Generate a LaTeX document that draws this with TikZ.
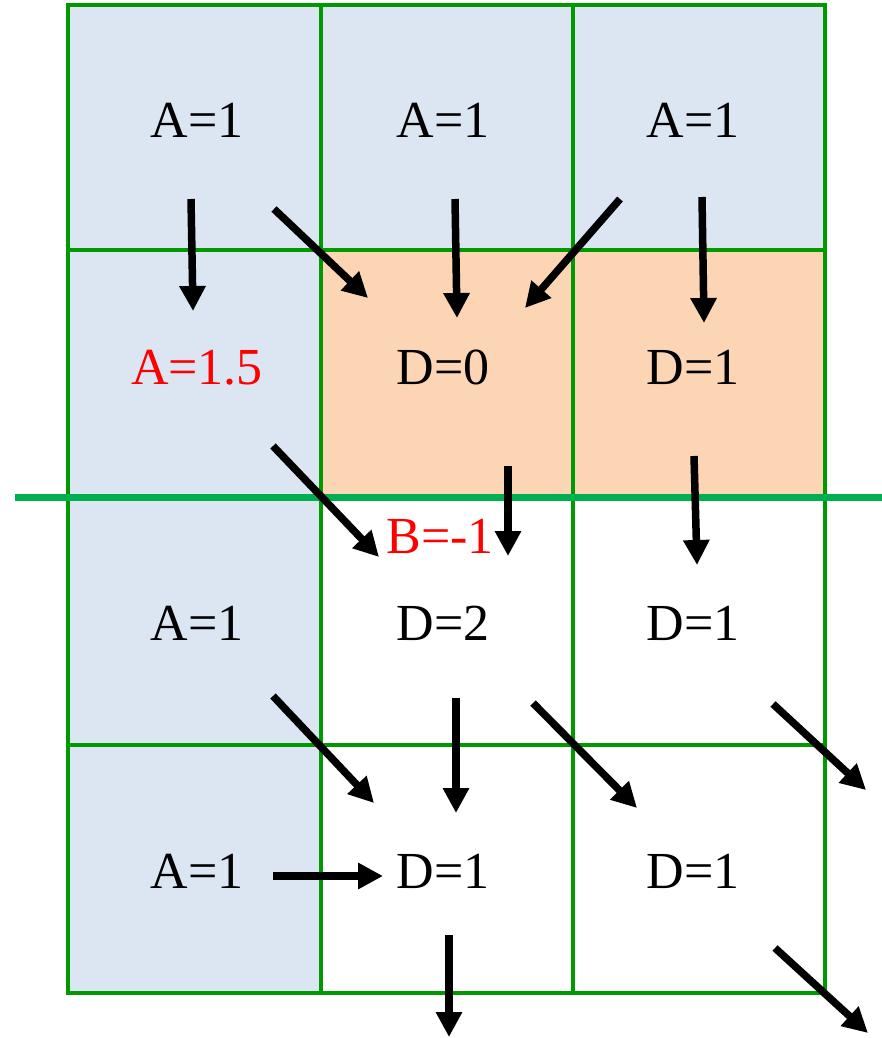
\documentclass[tikz,border=0pt]{standalone}
\usepackage{fontspec}
\newfontfamily\lserif{LiberationSerif}[Extension=.ttf,UprightFont=*-Regular]
\usetikzlibrary{arrows.meta}
\definecolor{cellblue}{RGB}{220,230,242}
\definecolor{cellorange}{RGB}{252,213,180}
\definecolor{gridgreen}{RGB}{0,153,0}
\definecolor{linegreen}{RGB}{0,176,80}
\begin{document}
\begin{tikzpicture}[x=1pt,y=-1pt,
  lbl/.style={anchor=base,inner sep=0pt,font=\lserif\fontsize{52}{60}\selectfont},
  redlbl/.style={lbl,text=red},
  flow/.style={line width=7.5pt,-{Triangle[width=25pt,length=25pt]}},
  gridline/.style={gridgreen,line width=4pt},
]
\useasboundingbox (0,0) rectangle (882,1038);
% cell fills
\fill[cellblue] (68,5) rectangle (825,250);
\fill[cellblue] (68,250) rectangle (321,993);
\fill[cellorange] (321,250) rectangle (825,497);
% grid
\draw[gridline] (68,5) rectangle (825,993);
\foreach \x in {321,573} \draw[gridline] (\x,5) -- (\x,993);
\foreach \y in {250,745} \draw[gridline] (68,\y) -- (825,\y);
\draw[linegreen,line width=7pt] (15,497) -- (882,497);
% labels
\node[lbl] (a1) at (197,138) {A=1};
\node[lbl] (a2) at (443,138) {A=1};
\node[lbl] (a3) at (693,138) {A=1};
\node[redlbl] (a4) at (197,384) {A=1.5};
\node[lbl] (d1) at (443,384) {D=0};
\node[lbl] (d2) at (693,384) {D=1};
\node[redlbl] (b1) at (440,553) {B=-1};
\node[lbl] (a5) at (197,640) {A=1};
\node[lbl] (d3) at (443,640) {D=2};
\node[lbl] (d4) at (693,640) {D=1};
\node[lbl] (a6) at (197,888) {A=1};
\node[lbl] (d5) at (443,888) {D=1};
\node[lbl] (d6) at (693,888) {D=1};
% arrow end points
\coordinate (s1) at (191,199);  \coordinate (t1) at (193,311);
\coordinate (s2) at (274,209);  \coordinate (t2) at (368,298);
\coordinate (s3) at (455,199);  \coordinate (t3) at (457,318);
\coordinate (s4) at (620,199);  \coordinate (t4) at (525,308);
\coordinate (s5) at (702,197);  \coordinate (t5) at (704,323);
\coordinate (s6) at (273,446);  \coordinate (t6) at (379,557);
\coordinate (s7) at (508,466);  \coordinate (t7) at (508,556);
\coordinate (s8) at (694,456);  \coordinate (t8) at (697,565);
\coordinate (s9) at (273,696);  \coordinate (t9) at (374,803);
\coordinate (s10) at (456,698); \coordinate (t10) at (456,813);
\coordinate (s11) at (533,703); \coordinate (t11) at (637,808);
\coordinate (s12) at (773,704); \coordinate (t12) at (866,790);
\coordinate (s13) at (273,876); \coordinate (t13) at (383,876);
\coordinate (s14) at (449,935); \coordinate (t14) at (449,1037);
\coordinate (s15) at (775,948); \coordinate (t15) at (868,1033);
\foreach \i in {1,...,15} \draw[flow] (s\i) -- (t\i);
\end{tikzpicture}
\end{document}
